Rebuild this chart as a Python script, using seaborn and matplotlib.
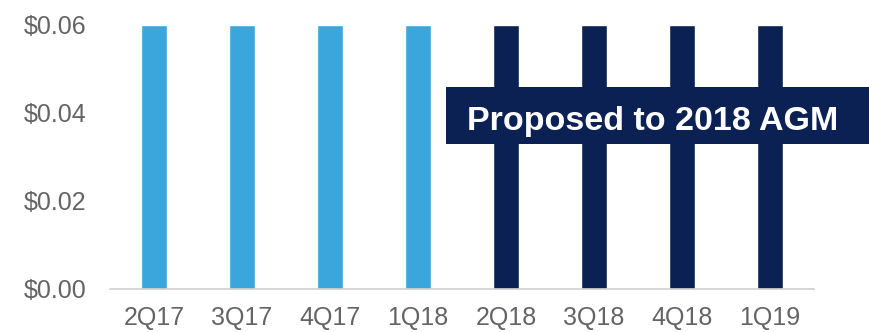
import matplotlib
matplotlib.use("Agg")
import matplotlib.pyplot as plt
from matplotlib.patches import Rectangle
import seaborn as sns
import pandas as pd

# Quarterly dividend per share
quarters = ["2Q17", "3Q17", "4Q17", "1Q18", "2Q18", "3Q18", "4Q18", "1Q19"]
dividends = [0.06, 0.06, 0.06, 0.06, 0.06, 0.06, 0.06, 0.06]
status = ["Paid", "Paid", "Paid", "Paid", "Proposed", "Proposed", "Proposed", "Proposed"]
y_ticks = [0.00, 0.02, 0.04, 0.06]
y_tick_labels = ["$0.00", "$0.02", "$0.04", "$0.06"]
callout = "Proposed to 2018 AGM"

LIGHT = "#3AA6DB"
NAVY = "#0B2153"
GREY = "#646464"

sns.set_theme(style="white")
plt.rcParams["font.family"] = ["Liberation Sans", "DejaVu Sans"]

df = pd.DataFrame({"quarter": quarters, "dividend": dividends, "status": status})

fig = plt.figure(figsize=(8.69, 3.32), dpi=100)
ax = fig.add_axes([110 / 869, 43 / 332, 704 / 869, 264 / 332])

sns.barplot(data=df, x="quarter", y="dividend", hue="status",
            palette={"Paid": LIGHT, "Proposed": NAVY},
            dodge=False, width=0.3, legend=False, ax=ax, saturation=1)

ax.set_xlim(-0.5, len(quarters) - 0.5)
ax.set_ylim(0, 0.06)
ax.set_yticks(y_ticks)
ax.set_yticklabels(y_tick_labels)
ax.set_xlabel("")
ax.set_ylabel("")
ax.tick_params(axis="both", length=0, labelsize=18, colors=GREY)
ax.tick_params(axis="y", pad=17)
ax.tick_params(axis="x", pad=12)
for side in ("top", "right", "left"):
    ax.spines[side].set_visible(False)
ax.spines["bottom"].set_color("#D0D0D0")
ax.spines["bottom"].set_linewidth(1.2)

# Callout banner over the proposed quarters
fig.patches.append(Rectangle((446 / 869, (332 - 144) / 332), (869 - 446) / 869, 57 / 332,
                             transform=fig.transFigure, facecolor=NAVY,
                             edgecolor="none", zorder=5))
fig.text(653 / 869, (332 - 130) / 332, callout, color="white",
         fontsize=24.5, fontweight="bold", ha="center", va="baseline", zorder=6)

fig.savefig("out.png", dpi=100)
